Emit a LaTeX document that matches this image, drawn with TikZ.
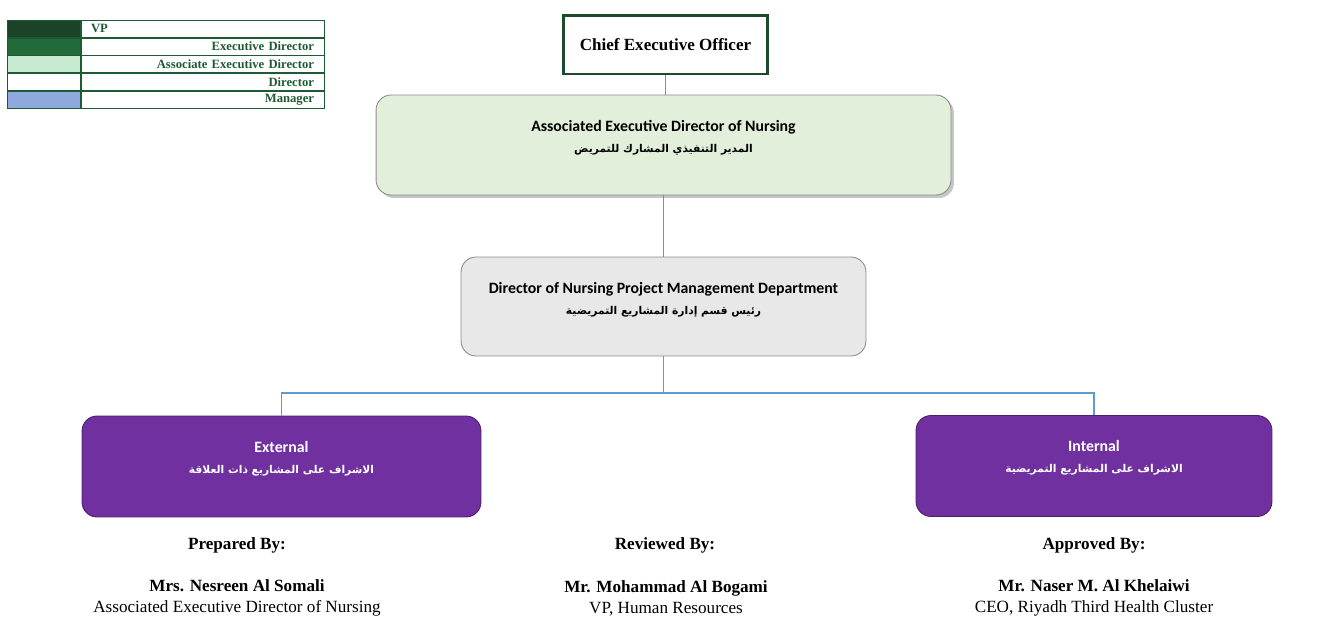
\documentclass[tikz,border=0pt]{standalone}
\usepackage{fontspec}
\usepackage{xcolor}
\usepackage{tikz}
\usetikzlibrary{shadows,calc}
\setmainfont{Liberation Serif}
\newfontfamily\boxfont{Carlito}
\newfontfamily\arabicfont[Script=Arabic]{DejaVu Sans}
\TeXXeTstate=1
\definecolor{vpgreen}{HTML}{1B4327}
\definecolor{edgreen}{HTML}{236A3B}
\definecolor{aedgreen}{HTML}{C5EAD0}
\definecolor{mgrblue}{HTML}{8EA9DB}
\definecolor{legtext}{HTML}{1E5B32}
\definecolor{ceoline}{HTML}{1D4A2A}
\definecolor{aedfill}{HTML}{E2EFDA}
\definecolor{dirfill}{HTML}{E8E8E8}
\definecolor{boxline}{HTML}{8C8C8C}
\definecolor{projpurple}{HTML}{7030A0}
\definecolor{purpleline}{HTML}{4B1F6B}
\definecolor{linkblue}{HTML}{5B9BD5}
\def\ar#1{{\arabicfont\fontsize{6.1}{12}\selectfont\beginR #1\endR}}
\tikzstyle{legcell}=[draw=legtext,line width=0.4pt,minimum height=0.34cm,inner sep=0pt]
\tikzstyle{legcolor}=[legcell,minimum width=1.46cm]
\tikzstyle{leglabel}=[legcell,minimum width=4.86cm,text width=4.46cm,font=\fontsize{7.2}{8}\selectfont\bfseries,text=legtext]
\tikzstyle{unitbox}=[rounded corners=0.3cm,draw=boxline,line width=0.5pt]
\tikzstyle{boxtext}=[font=\boxfont\fontsize{9}{12}\selectfont\bfseries,align=center]
\tikzstyle{purplebox}=[unitbox,fill=projpurple,draw=purpleline,minimum height=2.02cm]
\tikzstyle{signtext}=[font=\fontsize{9.75}{12}\selectfont,align=center]
\tikzstyle{signhead}=[font=\fontsize{9.75}{12}\selectfont\bfseries]
\tikzstyle{gray link}=[draw=boxline,line width=0.6pt]
\tikzstyle{blue link}=[draw=linkblue,line width=0.6pt]

\begin{document}
\begin{tikzpicture}[x=0.02cm,y=-0.02cm]
    \useasboundingbox (0,0) rectangle (1336,619);
    % legend
    \node[legcolor,fill=vpgreen,anchor=north west] (leg1) at (7,20) {};
    \node[leglabel,anchor=west,align=left] (lab1) at (leg1.east) {VP};
    \foreach \i/\p/\col/\lab in {2/1/edgreen/Executive Director,3/2/aedgreen/Associate Executive Director,4/3/white/Director,5/4/mgrblue/Manager}{
        \node[legcolor,fill=\col,anchor=north] (leg\i) at (leg\p.south) {};
        \node[leglabel,anchor=west,align=right] (lab\i) at (leg\i.east) {\lab};
    }
    % boxes
    \node[draw=ceoline,line width=1.7pt,minimum width=4.1cm,minimum height=1.18cm,font=\fontsize{9.7}{11}\selectfont\bfseries] (ceo) at (665.5,44.5) {Chief Executive Officer};
    \node[unitbox,fill=aedfill,minimum width=11.5cm,minimum height=2cm,drop shadow={shadow xshift=0.06cm,shadow yshift=-0.06cm,opacity=0.45}] (aed) at (663.5,145) {};
    \node[boxtext] at ($(aed.center)+(0,-7)$) {Associated Executive Director of Nursing\\\ar{المدير التنفيذي المشارك للتمريض}};
    \node[unitbox,fill=dirfill,minimum width=8.1cm,minimum height=1.98cm] (dir) at (663.5,306.5) {};
    \node[boxtext] at ($(dir.center)+(0,-7)$) {Director of Nursing Project Management Department\\\ar{رئيس قسم إدارة المشاريع التمريضية}};
    \node[purplebox,minimum width=7.98cm] (ext) at (281.5,466.5) {};
    \node[boxtext,text=white] at ($(ext.center)+(0,-8)$) {External\\\ar{الاشراف على المشاريع ذات العلاقة}};
    \node[purplebox,minimum width=7.12cm] (int) at (1094,466) {};
    \node[boxtext,text=white] at ($(int.center)+(0,-8)$) {Internal\\\ar{الاشراف على المشاريع التمريضية}};
    % links
    \coordinate (split) at (663.5,393);
    \draw[gray link] (ceo.south) -- (ceo.south |- aed.north);
    \draw[gray link] (aed.south) -- (dir.north);
    \draw[blue link] (dir.south) -- (split) -| (ext.north);
    \draw[blue link] (split) -| (int.north);
    % signatures
    \node[signhead] (prep) at (237,545) {Prepared By:};
    \node[signtext] (prepname) at (237,598) {\textbf{Mrs. Nesreen Al Somali}\\Associated Executive Director of Nursing};
    \node[signhead] (rev) at (665,545) {Reviewed By:};
    \node[signtext] (revname) at (666,598) {\textbf{Mr. Mohammad Al Bogami}\\VP, Human Resources};
    \node[signhead] (appr) at (1094,545) {Approved By:};
    \node[signtext] (apprname) at (1094,598) {\textbf{Mr. Naser M. Al Khelaiwi}\\CEO, Riyadh Third Health Cluster};
\end{tikzpicture}
\end{document}
